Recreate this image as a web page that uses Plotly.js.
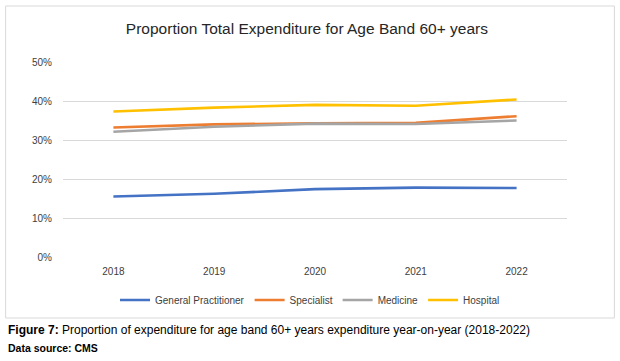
<!DOCTYPE html>
<html>
<head>
<meta charset="utf-8">
<script src="https://cdn.plot.ly/plotly-3.0.1.min.js"></script>
<style>
html,body{margin:0;padding:0;background:#fff;}
#chart{width:620px;height:361px;}
</style>
</head>
<body>
<div id="chart"></div>
<script>
var years = ["2018", "2019", "2020", "2021", "2022"];
var generalPractitioner = [15.5, 16.2, 17.4, 17.8, 17.7];
var specialist = [33.2, 34.0, 34.3, 34.4, 36.1];
var medicine = [32.1, 33.4, 34.2, 34.1, 35.0];
var hospital = [37.3, 38.3, 39.0, 38.8, 40.4];
var yTicks = [0, 10, 20, 30, 40, 50];
var yTickLabels = ["0%", "10%", "20%", "30%", "40%", "50%"];

var FONT = "Liberation Sans, Arial, sans-serif";
function series(name, vals, color) {
  return {x: years, y: vals, name: name, type: "scatter", mode: "lines",
          line: {color: color, width: 2.6}, hoverinfo: "x+y+name"};
}
var data = [
  series("General Practitioner", generalPractitioner, "#4472C4"),
  series("Specialist", specialist, "#ED7D31"),
  series("Medicine", medicine, "#A5A5A5"),
  series("Hospital", hospital, "#FFC000")
];

var L = 62.5, W = 505, T = 62, H = 195;
function px(x) { return (x - L) / W; }
function py(y) { return (T + H - y) / H; }

var layout = {
  width: 620, height: 361,
  margin: {l: 62.5, r: 52.5, t: 62, b: 104},
  paper_bgcolor: "#fff", plot_bgcolor: "#fff",
  font: {family: FONT, color: "#404040", size: 10},
  title: {text: "Proportion Total Expenditure for Age Band 60+ years",
          font: {family: FONT, size: 15.5, color: "#262626"},
          x: 0.495, xanchor: "center", y: 1 - 29/361, yanchor: "middle", yref: "container"},
  xaxis: {type: "category", range: [-0.5, 4.5], showgrid: false, zeroline: false, showline: false,
          ticks: "", ticklabelstandoff: 7, tickfont: {size: 10, color: "#404040"}, fixedrange: true},
  yaxis: {range: [0, 50], tickvals: yTicks, ticktext: yTickLabels,
          showgrid: true, gridcolor: "#d9d9d9", gridwidth: 1, zeroline: false,
          showline: false, ticks: "", ticklen: 0, ticklabelstandoff: 10,
          tickfont: {size: 10, color: "#404040"}, fixedrange: true},
  showlegend: true,
  legend: {orientation: "h", x: px(310), xanchor: "center", y: py(300), yanchor: "middle",
           font: {size: 10, color: "#404040"}, itemwidth: 30, tracegroupgap: 0,
           bgcolor: "rgba(0,0,0,0)"},
  shapes: [{type: "rect", xref: "paper", yref: "paper",
            x0: px(5), x1: px(615), y0: py(318), y1: py(6),
            line: {color: "#d9d9d9", width: 1}, fillcolor: "rgba(0,0,0,0)", layer: "below"}],
  annotations: [
    {xref: "paper", yref: "paper", x: px(5), y: py(330), xanchor: "left", yanchor: "middle",
     showarrow: false, text: "<b>Figure 7:</b> Proportion of expenditure for age band 60+ years expenditure year-on-year (2018-2022)",
     font: {family: FONT, size: 12, color: "#000"}},
    {xref: "paper", yref: "paper", x: px(5), y: py(348), xanchor: "left", yanchor: "middle",
     showarrow: false, text: "<b>Data source: CMS</b>",
     font: {family: FONT, size: 10.5, color: "#000"}}
  ]
};
Plotly.newPlot("chart", data, layout, {displayModeBar: false, staticPlot: true});
</script>
</body>
</html>
